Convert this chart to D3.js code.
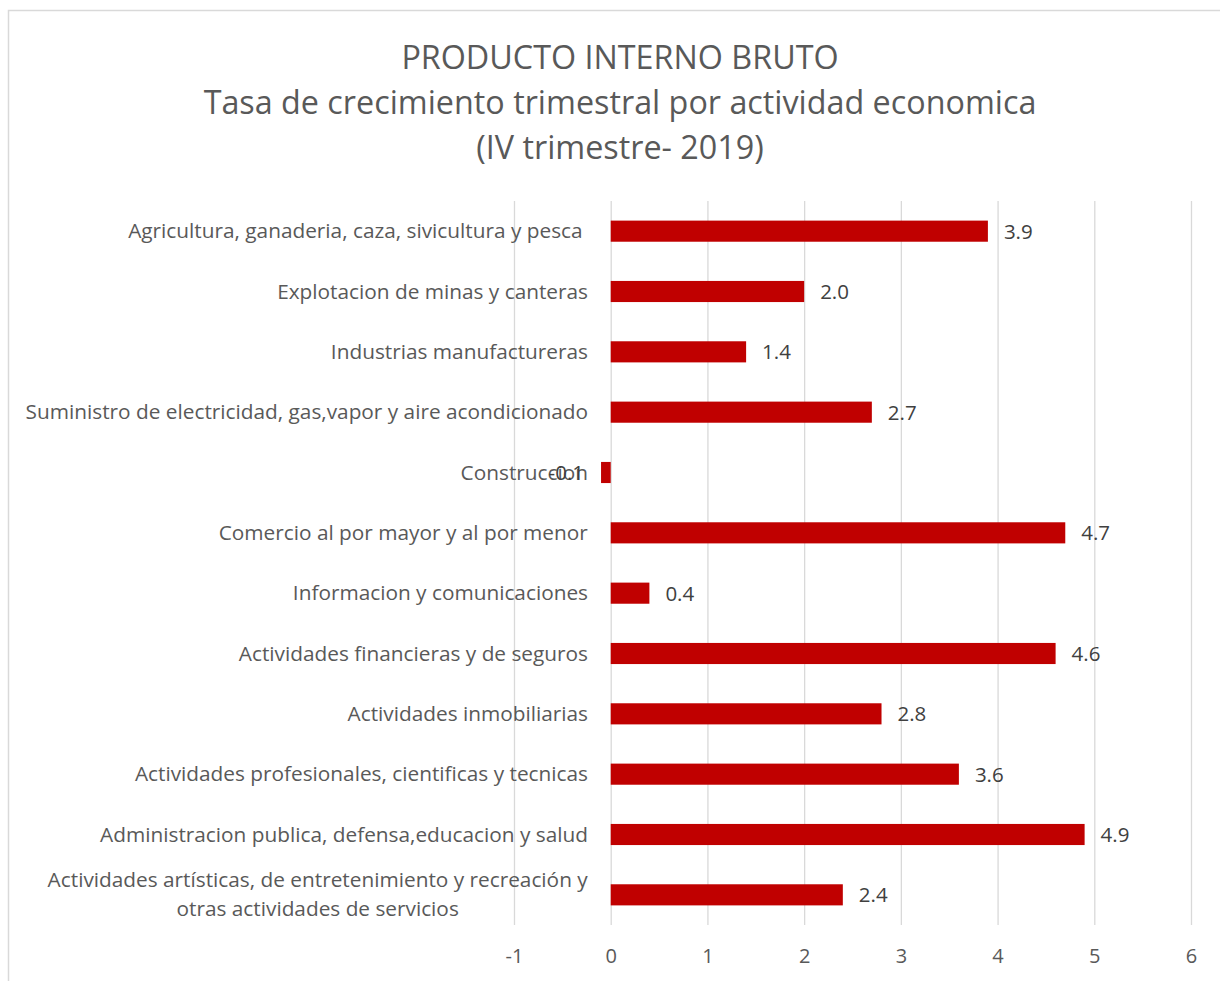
<!DOCTYPE html>
<html><head><meta charset="utf-8">
<script src="https://cdn.jsdelivr.net/npm/d3@7"></script>
<style>body{margin:0;background:#fff}svg{display:block}</style>
</head><body><svg id="c" width="1220" height="981"></svg>
<script>
const categories = [
  "Agricultura, ganaderia, caza, sivicultura y pesca ",
  "Explotacion de minas y canteras",
  "Industrias manufactureras",
  "Suministro de electricidad, gas,vapor y aire acondicionado",
  "Construccion",
  "Comercio al por mayor y al por menor",
  "Informacion y comunicaciones",
  "Actividades financieras y de seguros",
  "Actividades inmobiliarias",
  "Actividades profesionales, cientificas y tecnicas",
  "Administracion publica, defensa,educacion y salud",
  "Actividades artísticas, de entretenimiento y recreación y|otras actividades de servicios"
];
const values = [3.9, 2.0, 1.4, 2.7, -0.1, 4.7, 0.4, 4.6, 2.8, 3.6, 4.9, 2.4];
const xTicks = [-1, 0, 1, 2, 3, 4, 5, 6];
const titleLines = ["PRODUCTO INTERNO BRUTO", "Tasa de crecimiento trimestral por actividad economica", "(IV trimestre- 2019)"];

const FONT = "'Open Sans', sans-serif";
const svg = d3.select("#c");
svg.append("rect").attr("x", 8.5).attr("y", 10.5).attr("width", 1230).attr("height", 990)
  .attr("fill", "#fff").attr("stroke", "#d9d9d9").attr("stroke-width", 1.5);

const x = d3.scaleLinear().domain([-1, 6]).range([514, 1191]);
const y = d3.scaleBand().domain(categories).range([201, 925]).paddingInner(0.65).paddingOuter(0.325);

// title
svg.append("g").selectAll("text").data(titleLines).join("text")
  .attr("x", 620).attr("y", (d, i) => 69 + i * 45)
  .attr("text-anchor", "middle").attr("fill", "#595959")
  .attr("font-family", FONT).attr("font-size", 32.3).text(d => d);

// gridlines
svg.append("g").selectAll("line").data(xTicks).join("line")
  .attr("x1", d => x(d) + 0.5).attr("x2", d => x(d) + 0.5)
  .attr("y1", 201).attr("y2", 925)
  .attr("stroke", "#d9d9d9").attr("stroke-width", 1.3);

// x axis labels
const xa = svg.append("g").attr("transform", "translate(0,925)")
  .call(d3.axisBottom(x).tickValues(xTicks).tickSize(0).tickPadding(24).tickFormat(d => String(d)));
xa.select(".domain").remove();
xa.selectAll("text").attr("font-family", FONT).attr("font-size", 20).attr("fill", "#595959");

// bars
svg.append("g").selectAll("rect").data(values).join("rect")
  .attr("x", d => x(Math.min(0, d)))
  .attr("y", (d, i) => y(categories[i]))
  .attr("width", d => Math.abs(x(d) - x(0)))
  .attr("height", y.bandwidth())
  .attr("fill", "#c00000");

// category labels
const cl = svg.append("g");
categories.forEach((c, i) => {
  const lines = c.split("|");
  const cy = y(c) + y.bandwidth() / 2;
  const t = cl.append("text").attr("text-anchor", "middle").attr("fill", "#595959")
    .attr("font-family", FONT).attr("font-size", 20.8).style("white-space", "pre");
  lines.forEach((ln, j) => {
    t.append("tspan").attr("x", 0).attr("y", cy + 7 + (j - (lines.length - 1) / 2) * 29).text(ln);
  });
  const bb = t.node().getBBox();
  t.attr("transform", `translate(${588 - bb.width / 2},0)`);
});

// value labels
svg.append("g").selectAll("text").data(values).join("text")
  .attr("x", d => d >= 0 ? x(d) + 16 : x(d) - 17)
  .attr("y", (d, i) => y(categories[i]) + y.bandwidth() / 2 + 7.5)
  .attr("text-anchor", d => d >= 0 ? "start" : "end")
  .attr("fill", "#404040").attr("font-family", FONT).attr("font-size", 20.5)
  .text(d => d.toFixed(1));
</script></body></html>
